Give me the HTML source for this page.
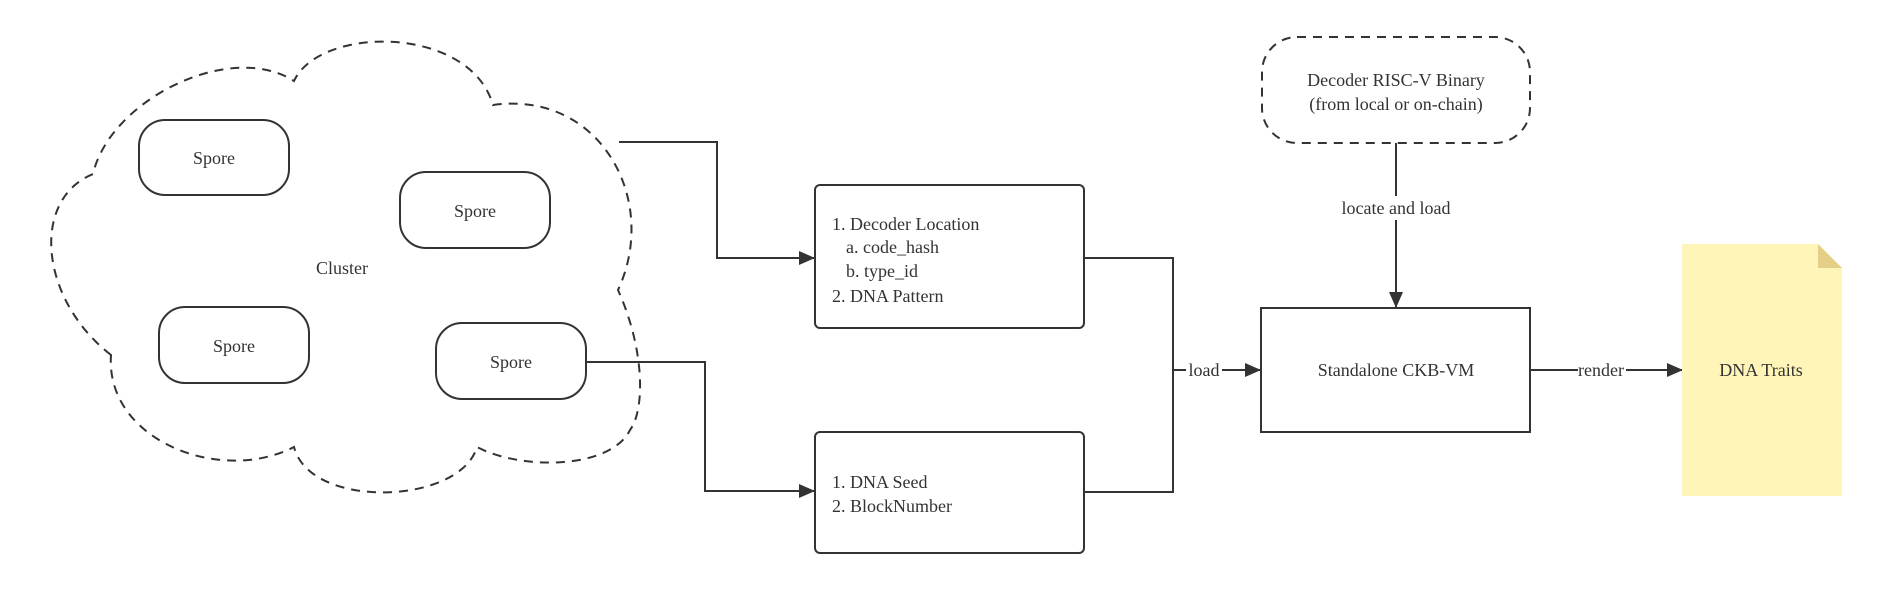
<!DOCTYPE html>
<html><head><meta charset="utf-8"><style>
html,body{margin:0;padding:0;background:#fff;}
svg{display:block;}
text{font-family:"Liberation Serif",serif;font-size:18px;fill:#333;}
</style></head><body>
<svg width="1881" height="589" viewBox="0 0 1881 589" xmlns="http://www.w3.org/2000/svg">
<defs>
<marker id="ar" markerWidth="16" markerHeight="14" refX="15" refY="7" orient="auto" markerUnits="userSpaceOnUse">
<path d="M0,0 L16,7 L0,14 Z" fill="#333"/></marker>
</defs>
<g fill="none" stroke="#333" stroke-width="2">
<path d="M111 355 C40 300,30 200,93 174 C110 100,230 40,294 81 C320 25,470 25,493 105 C600 90,660 200,618 290 C645 350,645 410,630 430 C610 470,520 470,477 447 C460 505,310 510,294 447 C220 485,105 440,111 355 Z" stroke-dasharray="9 7"/>
<rect x="139" y="120" width="150" height="75" rx="26"/>
<rect x="400" y="172" width="150" height="76" rx="26"/>
<rect x="159" y="307" width="150" height="76" rx="26"/>
<rect x="436" y="323" width="150" height="76" rx="26"/>
<rect x="815" y="185" width="269" height="143" rx="5"/>
<rect x="815" y="432" width="269" height="121" rx="5"/>
<rect x="1261" y="308" width="269" height="124"/>
<rect x="1262" y="37" width="268" height="106" rx="35" stroke-dasharray="9 7"/>
<path d="M619 142 H717 V258 H814" marker-end="url(#ar)"/>
<path d="M586 362 H705 V491 H814" marker-end="url(#ar)"/>
<path d="M1084 258 H1173 V492 H1084"/>
<path d="M1173 370 H1260" marker-end="url(#ar)"/>
<path d="M1396 143 V307" marker-end="url(#ar)"/>
<path d="M1530 370 H1682" marker-end="url(#ar)"/>
</g>
<rect x="1186" y="360" width="36" height="20" fill="#fff"/>
<rect x="1336" y="196" width="120" height="24" fill="#fff"/>
<rect x="1578" y="360" width="48" height="20" fill="#fff"/>
<path d="M1682 244 H1818 L1842 268 V496 H1682 Z" fill="#fff5b8"/>
<path d="M1818 244 L1842 268 H1818 Z" fill="#e3cf85"/>
<g text-anchor="middle">
<text x="214" y="164">Spore</text>
<text x="475" y="217">Spore</text>
<text x="234" y="352">Spore</text>
<text x="511" y="368">Spore</text>
<text x="342" y="274">Cluster</text>
<text x="1396" y="86">Decoder RISC-V Binary</text>
<text x="1396" y="110">(from local or on-chain)</text>
<text x="1396" y="214">locate and load</text>
<text x="1396" y="376">Standalone CKB-VM</text>
<text x="1204" y="376">load</text>
<text x="1601" y="376">render</text>
<text x="1761" y="376">DNA Traits</text>
</g>
<text x="832" y="230">1. Decoder Location</text>
<text x="846" y="253">a. code_hash</text>
<text x="846" y="277">b. type_id</text>
<text x="832" y="302">2. DNA Pattern</text>
<text x="832" y="488">1. DNA Seed</text>
<text x="832" y="512">2. BlockNumber</text>
</svg>
</body></html>
